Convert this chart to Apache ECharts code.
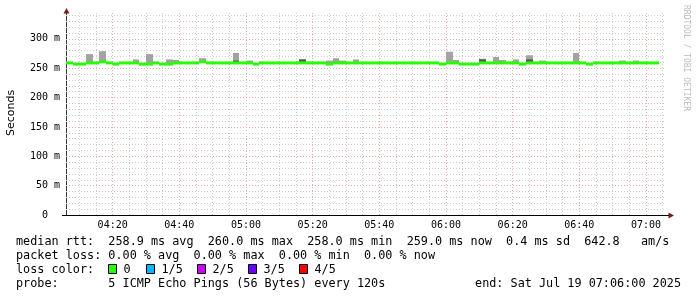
<!DOCTYPE html>
<html><head><meta charset="utf-8">
<script src="https://cdn.jsdelivr.net/npm/echarts@6/dist/echarts.min.js"></script>
<style>html,body{margin:0;padding:0;background:#fff}#c{width:697px;height:297px}</style>
</head><body><div id="c"></div>
<script>
// ---- data ----
const startTime = '04:06';
const endTime = '07:06';
const stepMinutes = 2;
// median rtt per 2-minute sample (ms)
const medianRtt = [
  259,257,257,259,259,261,259,257,259,259,
  259,257,257,259,257,257,259,259,259,259,
  261,259,259,259,259,259,259,259,257,259,
  259,259,259,259,259,259,259,259,259,257,
  259,259,259,259,259,259,259,259,259,259,
  259,259,259,259,259,259,257,259,259,257,
  257,257,259,259,259,259,259,259,257,259,
  259,259,259,259,259,259,259,259,257,259,
  259,259,259,259,259,259,259,259,259
];
// highest ping per sample (light smoke), null = no visible smoke
const maxRtt = [
  null,null,null,274,null,279,null,null,null,null,
  265,null,274,null,null,265,264,null,null,null,
  267,null,null,null,null,276,null,263,null,null,
  null,null,null,null,null,265,null,null,null,263,
  267,263,null,265,null,null,null,null,null,null,
  null,null,null,null,null,null,null,278,264,null,
  null,null,266,null,269,264,null,265,null,272,
  null,263,null,null,null,null,276,null,null,null,
  null,null,null,263,null,263,null,null,null
];
// dense (dark) smoke top per sample, null = none
const darkTop = [
  null,null,null,null,null,null,null,null,null,null,
  null,null,null,null,null,null,null,null,null,null,
  null,null,null,null,null,263,null,null,null,null,
  null,null,null,null,null,265,null,null,null,null,
  null,null,null,null,null,null,null,null,null,null,
  null,null,null,null,null,null,null,null,null,null,
  null,null,265,null,null,null,null,null,null,265,
  null,null,null,null,null,null,null,null,null,null,
  null,null,null,null,null,null,null,null,null
];
const yTickValues = [0, 50, 100, 150, 200, 250, 300];
const yMaxValue = 344;
const xTickLabels = ['04:20','04:40','05:00','05:20','05:40','06:00','06:20','06:40','07:00'];
const legendLine1 = 'median rtt:  258.9 ms avg  260.0 ms max  258.0 ms min  259.0 ms now  0.4 ms sd  642.8   am/s';
const legendLine2 = 'packet loss: 0.00 % avg  0.00 % max  0.00 % min  0.00 % now';
const legendLine3 = 'loss color:';
const lossLabels = ['0', '1/5', '2/5', '3/5', '4/5'];
const lossColors = ['#26ff00', '#00b8ff', '#cc00ff', '#6a00ff', '#ff0000'];
const probeLabel = 'probe:       5 ICMP Echo Pings (56 Bytes) every 120s';
const endLabel = 'end: Sat Jul 19 07:06:00 2025';
const watermark = 'RRDTOOL / TOBI OETIKER';
const yAxisTitle = 'Seconds';

// ---- build ----
function toMin(s){ const p = s.split(':').map(Number); return p[0]*60 + p[1]; }
const xMin = toMin(startTime), xMax = toMin(endTime);
const xTickValues = xTickLabels.map(toMin);
const greenData = medianRtt.map((m, i) => [xMin + i*stepMinutes, m]);
const smokeData = [];
maxRtt.forEach((mx, i) => {
  if (mx != null) smokeData.push([xMin + i*stepMinutes, medianRtt[i], mx, darkTop[i] != null ? darkTop[i] : medianRtt[i]]);
});
function pad(n){ return (n < 10 ? '0' : '') + n; }
function fmt(v){ return pad(Math.floor(v/60)) + ':' + pad(v % 60); }

// grid lines (axis subdivisions)
const minorGrid = '#cdcdcd', majorGrid = '#eaa8a8';
const gridLines = [];
for (let v = Math.ceil(xMin/5)*5; v < xMax; v += 5) {
  if (v <= xMin) continue;
  const major = v % 20 === 0;
  gridLines.push({ xAxis: v, lineStyle: { color: major ? majorGrid : minorGrid, type: [1, 2], width: 1 } });
}
for (let v = 10; v < yMaxValue; v += 10) {
  const major = v % 50 === 0;
  gridLines.push({ yAxis: v, lineStyle: { color: major ? majorGrid : minorGrid, type: [1, 2], width: 1 } });
}

const mono = '"DejaVu Sans Mono", monospace';
const LF = 11.8;
const chart = echarts.init(document.getElementById('c'), null, { renderer: 'canvas' });

const graphics = [
  { type: 'text', x: 11, y: 113, rotation: Math.PI/2, style: { text: yAxisTitle, fontFamily: '"DejaVu Sans", sans-serif', fontSize: 11, fill: '#000', align: 'center', verticalAlign: 'middle' } },
  { type: 'text', x: 686, y: 5, rotation: -Math.PI/2, style: { text: watermark, fontFamily: mono, fontSize: 8, fill: '#bdbdbd', align: 'left', verticalAlign: 'middle' } },
  { type: 'text', x: 16, y: 241.5, style: { text: legendLine1, fontFamily: mono, fontSize: LF, fill: '#000', align: 'left', verticalAlign: 'middle' } },
  { type: 'text', x: 16, y: 255.5, style: { text: legendLine2, fontFamily: mono, fontSize: LF, fill: '#000', align: 'left', verticalAlign: 'middle' } },
  { type: 'text', x: 16, y: 269.5, style: { text: legendLine3, fontFamily: mono, fontSize: LF, fill: '#000', align: 'left', verticalAlign: 'middle' } },
  { type: 'text', x: 16, y: 283.5, style: { text: probeLabel, fontFamily: mono, fontSize: LF, fill: '#000', align: 'left', verticalAlign: 'middle' } },
  { type: 'text', x: 681, y: 283.5, style: { text: endLabel, fontFamily: mono, fontSize: LF, fill: '#000', align: 'right', verticalAlign: 'middle' } },
  // axis arrows
  { type: 'polygon', shape: { points: [[66.5, 8], [63.5, 13.5], [69.5, 13.5]] }, style: { fill: '#7a1c1c' } },
  { type: 'polygon', shape: { points: [[674, 215.5], [668.5, 212.5], [668.5, 218.5]] }, style: { fill: '#7a1c1c' } },
  { type: 'line', shape: { x1: 62, y1: 215.5, x2: 66, y2: 215.5 }, style: { stroke: '#000', lineWidth: 1 } },
  { type: 'line', shape: { x1: 666, y1: 215.5, x2: 669, y2: 215.5 }, style: { stroke: '#000', lineWidth: 1 } }
];
const boxX = [108.5, 146.5, 197.5, 248.5, 299.5];
lossLabels.forEach((lab, i) => {
  graphics.push({ type: 'rect', shape: { x: boxX[i], y: 264.5, width: 8, height: 9 }, style: { fill: lossColors[i], stroke: '#000', lineWidth: 1 } });
  graphics.push({ type: 'text', x: boxX[i] + 15, y: 269.5, style: { text: lab, fontFamily: mono, fontSize: LF, fill: '#000', align: 'left', verticalAlign: 'middle' } });
});

chart.setOption({
  animation: false,
  backgroundColor: '#fff',
  grid: { left: 66, right: 31, top: 13, bottom: 82, containLabel: false },
  xAxis: {
    type: 'value', min: xMin, max: xMax,
    axisLine: { show: true, lineStyle: { color: '#000', width: 1 } },
    axisTick: { show: false },
    splitLine: { show: false },
    axisLabel: { customValues: xTickValues, formatter: v => fmt(v), fontFamily: mono, fontSize: 10, color: '#000', margin: 5 }
  },
  yAxis: {
    type: 'value', min: 0, max: yMaxValue,
    axisLine: { show: true, onZero: false, lineStyle: { color: '#333', width: 1 } },
    axisTick: { show: false },
    splitLine: { show: false },
    axisLabel: { customValues: yTickValues, formatter: v => v === 0 ? '0  ' : v + ' m', fontFamily: mono, fontSize: 10, color: '#000', margin: 6 }
  },
  graphic: graphics,
  series: [
    {
      type: 'line', data: [[xMin, 0]], showSymbol: false, lineStyle: { opacity: 0 }, z: 1, silent: true,
      markLine: { z: 1, silent: true, symbol: ['none', 'none'], label: { show: false }, emphasis: { disabled: true }, data: gridLines }
    },
    {
      type: 'custom', z: 6, silent: true, data: smokeData,
      renderItem: function (params, api) {
        const t = api.value(0);
        const a = api.coord([t, api.value(1)]);
        const b = api.coord([t + stepMinutes, api.value(2)]);
        const d = api.coord([t + stepMinutes, api.value(3)]);
        const x0 = Math.round(a[0]), x1 = Math.round(b[0]);
        const children = [
          { type: 'rect', shape: { x: x0, y: b[1], width: x1 - x0, height: a[1] - b[1] }, style: { fill: '#a3a3a3' } }
        ];
        if (a[1] - d[1] > 0.5) {
          children.push({ type: 'rect', shape: { x: x0, y: d[1], width: x1 - x0, height: a[1] - d[1] }, style: { fill: '#555555' } });
        }
        return { type: 'group', children: children };
      }
    },
    {
      type: 'custom', z: 7, silent: true, data: greenData,
      renderItem: function (params, api) {
        const t = api.value(0);
        const a = api.coord([t, api.value(1)]);
        const b = api.coord([t + stepMinutes, api.value(1)]);
        const x0 = Math.round(a[0]), x1 = Math.round(b[0]);
        return { type: 'rect', shape: { x: x0, y: a[1] - 1.5, width: x1 - x0, height: 3 }, style: { fill: lossColors[0] } };
      }
    }
  ]
});
</script></body></html>
